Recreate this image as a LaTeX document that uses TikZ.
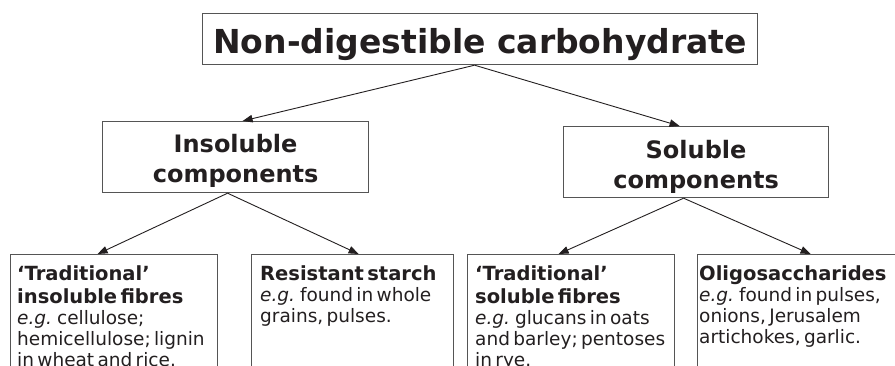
\documentclass[tikz,border=0pt]{standalone}
\usepackage{fontspec}
\setmainfont{DejaVu Sans}
\usetikzlibrary{arrows.meta,calc}
\definecolor{ink}{HTML}{231F20}
\definecolor{frame}{HTML}{555555}
\newcommand{\leafhd}{\fontsize{19.5}{23}\selectfont\bfseries\rule{0pt}{22pt}}
\newcommand{\leafbd}{\fontsize{18.5}{21}\selectfont}
\begin{document}
\begin{tikzpicture}[x=1pt,y=-1pt,
  frm/.style={draw=frame, line width=1.2pt, rectangle, inner sep=0pt, anchor=north west},
  arr/.style={draw=ink, line width=0.9pt, -{Stealth[length=10pt,width=7.5pt,inset=0pt]}},
  ttl/.style={text=ink, inner sep=0pt, anchor=north, align=center},
  leaf/.style={text=ink, inner sep=0pt, anchor=north west, text width=200pt, align=left,
    execute at begin node={\setlength{\parindent}{0pt}}},
]
\useasboundingbox (0,0) rectangle (895,366);
\clip (0,0) rectangle (895,366);
\fill[white] (0,0) rectangle (895,366);

% top
\node[frm, minimum width=555pt, minimum height=51pt] (top) at (202,13) {};
\node[text=ink, inner sep=0pt, anchor=base, font=\fontsize{33}{38}\selectfont\bfseries] (topT) at ($(top.south)+(0,-12)$) {Non-digestible carbohydrate};

% middle
\node[frm, minimum width=266pt, minimum height=71pt] (ins) at (102,121) {};
\node[ttl, text width=260pt, font=\fontsize{24}{30}\selectfont\bfseries] (insT) at ($(ins.north)+(0,11)$) {\rule{0pt}{20pt}Insoluble\\components};

\node[frm, minimum width=265pt, minimum height=71pt] (sol) at (563,126) {};
\node[ttl, text width=260pt, font=\fontsize{24}{30}\selectfont\bfseries] (solT) at ($(sol.north)+(0,12)$) {\rule{0pt}{20pt}Soluble\\components};

% leaves
\node[frm, minimum width=207pt, minimum height=150pt] (b1) at (10,254) {};
\node[frm, minimum width=202pt, minimum height=150pt] (b2) at (251,254) {};
\node[frm, minimum width=207pt, minimum height=150pt] (b3) at (467,254) {};
\node[frm, minimum width=203pt, minimum height=150pt] (b4) at (697,254) {};

\node[leaf] (b1T) at ($(b1.north west)+(7,4)$) {{\leafhd ‘Traditional’\\ insoluble fibres\par}
{\leafbd\textit{e.g.} cellulose;\\ hemicellulose; lignin\\ in wheat and rice.\par}};
\node[leaf] (b2T) at ($(b2.north west)+(9,4)$) {{\leafhd Resistant starch\par}
{\leafbd\textit{e.g.} found in whole\\ grains, pulses.\par}};
\node[leaf] (b3T) at ($(b3.north west)+(8,4)$) {{\leafhd ‘Traditional’\\ soluble fibres\par}
{\leafbd\textit{e.g.} glucans in oats\\ and barley; pentoses\\ in rye.\par}};
\node[leaf] (b4T) at ($(b4.north west)+(2,4)$) {{\leafhd Oligosaccharides\par}
{\leafbd\textit{e.g.} found in pulses,\\ onions, Jerusalem\\ artichokes, garlic.\par}};

% connectors
\coordinate (topsrc) at ($(top.south)+(-5.5,0)$);
\coordinate (inssrc) at ($(ins.south)+(-8,0)$);
\coordinate (solsrc) at ($(sol.south)+(-12.5,0)$);
\draw[arr] (topsrc) -- ($(ins.north)+(7,0)$);
\draw[arr] (topsrc) -- ($(sol.north)+(-16.5,0)$);
\draw[arr] (inssrc) -- ($(b1.north)+(-16.5,0)$);
\draw[arr] (inssrc) -- ($(b2.north)+(6,0)$);
\draw[arr] (solsrc) -- ($(b3.north)+(-12.5,0)$);
\draw[arr] (solsrc) -- ($(b4.north)+(11.5,0)$);
\end{tikzpicture}
\end{document}
